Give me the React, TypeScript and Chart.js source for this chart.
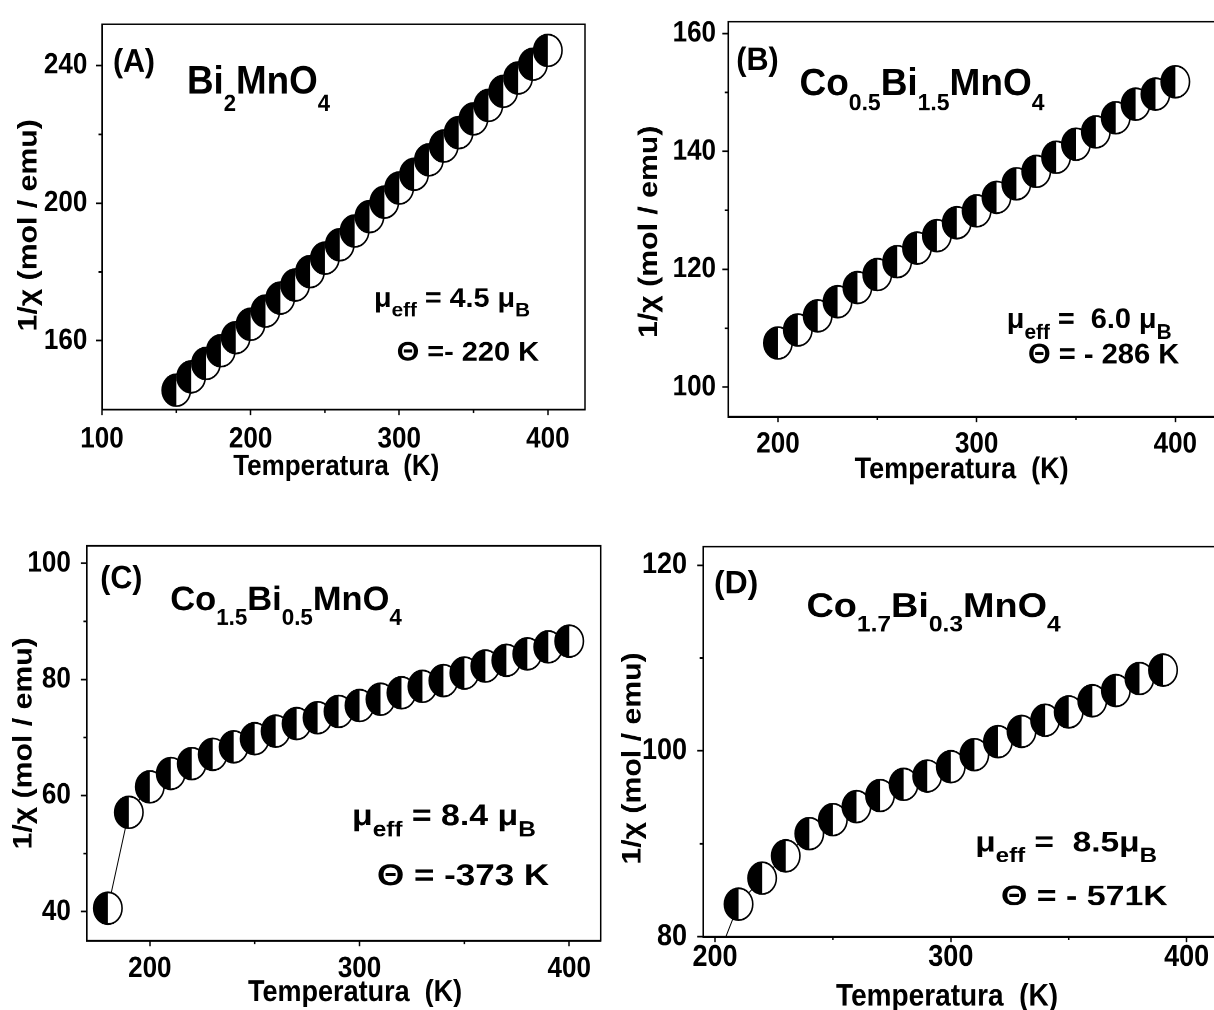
import { useEffect, useRef } from "react";
import { Chart, registerables } from "chart.js";

Chart.register(...registerables);

// ---------------- data ----------------
const tempA = [150, 160, 170, 180, 190, 200, 210, 220, 230, 240, 250, 260, 270, 280, 290, 300, 310, 320, 330, 340, 350, 360, 370, 380, 390, 400];
const chiA = [145.6, 149.5, 153.4, 157.1, 160.9, 164.8, 168.6, 172.4, 176.2, 180.1, 184.0, 187.9, 191.9, 196.1, 200.3, 204.4, 208.4, 212.6, 216.6, 220.5, 224.5, 228.4, 232.5, 236.4, 240.4, 244.4];

const tempB = [200, 210, 220, 230, 240, 250, 260, 270, 280, 290, 300, 310, 320, 330, 340, 350, 360, 370, 380, 390, 400];
const chiB = [107.5, 109.7, 112.1, 114.5, 116.9, 119.1, 121.3, 123.6, 125.7, 127.9, 129.9, 132.2, 134.5, 136.6, 139.0, 141.2, 143.3, 145.7, 148.0, 149.7, 151.8];

const tempC = [180, 190, 200, 210, 220, 230, 240, 250, 260, 270, 280, 290, 300, 310, 320, 330, 340, 350, 360, 370, 380, 390, 400];
const chiC = [40.6, 57.1, 61.5, 63.8, 65.5, 67.1, 68.4, 69.8, 71.1, 72.4, 73.4, 74.5, 75.5, 76.6, 77.7, 78.8, 79.8, 81.1, 82.3, 83.3, 84.4, 85.6, 86.6];

const tempD = [200, 210, 220, 230, 240, 250, 260, 270, 280, 290, 300, 310, 320, 330, 340, 350, 360, 370, 380, 390];
const chiD = [77.0, 83.5, 86.3, 88.7, 91.1, 92.6, 94.0, 95.2, 96.4, 97.3, 98.3, 99.6, 101.0, 102.1, 103.3, 104.2, 105.4, 106.5, 107.8, 108.7];

// axis ranges / tick steps
const xRangeA = [100, 425]; const yRangeA = [140, 252]; const xStepA = 100; const yStepA = 40;
const xRangeB = [175, 425]; const yRangeB = [95, 162]; const xStepB = 100; const yStepB = 20;
const xRangeC = [170, 415]; const yRangeC = [35, 103]; const xStepC = 100; const yStepC = 20;
const xRangeD = [195, 415]; const yRangeD = [80, 122]; const xStepD = 100; const yStepD = 20;

const xTitle = "Temperatura  (K)";
const yTitle = "1/\u03C7 (mol / emu)";

// ---------------- layout ----------------
const S = 1.12; // vertical stretch of the original figure
const HU = 450; // unstretched canvas height
const FONT = "'Liberation Sans', Arial, Helvetica, sans-serif";

type Run = { t: string; sub?: boolean };
type Note = { runs: Run[]; x0: number; x1: number; base: number; size: number; subScale?: number; subDrop?: number };
type Panel = {
  id: string;
  temps: number[]; chi: number[];
  xr: number[]; yr: number[]; xs: number; ys: number;
  left: number; top: number; width: number;
  fL: number; fR: number; fT: number; fB: number;
  xLabC: number; xTitC: number; yTitC: number; yLabGap: number;
  tickFont: number; xTitFont: number; yTitFont: number;
  xTitText: string; yTitText: string;
  notes: Note[];
};

const mu = "\u03BC";
const TH = "\u0398";

const panels: Panel[] = [
  {
    id: "A", temps: tempA, chi: chiA, xr: xRangeA, yr: yRangeA, xs: xStepA, ys: yStepA,
    left: 0, top: 0, width: 600,
    fL: 102, fR: 585, fT: 17.5, fB: 409.5,
    xLabC: 439.2, xTitC: 467, yTitC: 29, yLabGap: 14.7,
    tickFont: 26, xTitFont: 26, yTitFont: 27,
    xTitText: xTitle + "  ", yTitText: yTitle + "  ",
    notes: [
      { runs: [{ t: "(A)" }], x0: 113, x1: 155, base: 71.7, size: 29 },
      { runs: [{ t: "Bi" }, { t: "2", sub: true }, { t: "MnO" }, { t: "4", sub: true }], x0: 187, x1: 330, base: 93.3, size: 35, subScale: 0.6, subDrop: 0.45 },
      { runs: [{ t: mu }, { t: "eff", sub: true }, { t: " = 4.5 " + mu }, { t: "B", sub: true }], x0: 374, x1: 530, base: 306.7, size: 24, subScale: 0.72, subDrop: 0.37 },
      { runs: [{ t: TH + " =- 220 K" }], x0: 396.7, x1: 539, base: 360.7, size: 24 },
    ],
  },
  {
    id: "B", temps: tempB, chi: chiB, xr: xRangeB, yr: yRangeB, xs: xStepB, ys: yStepB,
    left: 610, top: 0, width: 620,
    fL: 728.3, fR: 1225, fT: 19.3, fB: 416.7,
    xLabC: 444.2, xTitC: 470, yTitC: 649.5, yLabGap: 12.3,
    tickFont: 26, xTitFont: 27, yTitFont: 27,
    xTitText: xTitle + "    ", yTitText: yTitle + "   ",
    notes: [
      { runs: [{ t: "(B)" }], x0: 736.3, x1: 778.7, base: 70, size: 29 },
      { runs: [{ t: "Co" }, { t: "0.5", sub: true }, { t: "Bi" }, { t: "1.5", sub: true }, { t: "MnO" }, { t: "4", sub: true }], x0: 799.5, x1: 1044.5, base: 95, size: 34, subScale: 0.62, subDrop: 0.4 },
      { runs: [{ t: mu }, { t: "eff", sub: true }, { t: " =  6.0 " + mu }, { t: "B", sub: true }], x0: 1006.8, x1: 1171.6, base: 328.3, size: 25, subScale: 0.72, subDrop: 0.37 },
      { runs: [{ t: TH + " = - 286 K" }], x0: 1028, x1: 1179.3, base: 363.3, size: 25 },
    ],
  },
  {
    id: "C", temps: tempC, chi: chiC, xr: xRangeC, yr: yRangeC, xs: xStepC, ys: yStepC,
    left: 0, top: 520, width: 610,
    fL: 86.9, fR: 600.7, fT: 544.3, fB: 940.7,
    xLabC: 969.2, xTitC: 992.5, yTitC: 24, yLabGap: 16.1,
    tickFont: 26, xTitFont: 27, yTitFont: 27,
    xTitText: "   " + xTitle, yTitText: yTitle,
    notes: [
      { runs: [{ t: "(C)" }], x0: 100.3, x1: 142.4, base: 588.3, size: 29 },
      { runs: [{ t: "Co" }, { t: "1.5", sub: true }, { t: "Bi" }, { t: "0.5", sub: true }, { t: "MnO" }, { t: "4", sub: true }], x0: 170.3, x1: 401.8, base: 610, size: 31, subScale: 0.65, subDrop: 0.43 },
      { runs: [{ t: mu }, { t: "eff", sub: true }, { t: " = 8.4 " + mu }, { t: "B", sub: true }], x0: 352, x1: 535.8, base: 825, size: 27, subScale: 0.72, subDrop: 0.37 },
      { runs: [{ t: TH + " = -373 K" }], x0: 377, x1: 549.2, base: 885, size: 27 },
    ],
  },
  {
    id: "D", temps: tempD, chi: chiD, xr: xRangeD, yr: yRangeD, xs: xStepD, ys: yStepD,
    left: 610, top: 520, width: 620,
    fL: 703.2, fR: 1222, fT: 540.7, fB: 936.7,
    xLabC: 957.5, xTitC: 996.7, yTitC: 633, yLabGap: 16.2,
    tickFont: 27, xTitFont: 28, yTitFont: 27,
    xTitText: xTitle + "    ", yTitText: yTitle + "    ",
    notes: [
      { runs: [{ t: "(D)" }], x0: 714, x1: 758.3, base: 593.3, size: 29 },
      { runs: [{ t: "Co" }, { t: "1.7", sub: true }, { t: "Bi" }, { t: "0.3", sub: true }, { t: "MnO" }, { t: "4", sub: true }], x0: 806.5, x1: 1060.7, base: 616.7, size: 31, subScale: 0.65, subDrop: 0.43 },
      { runs: [{ t: mu }, { t: "eff", sub: true }, { t: " =  8.5" + mu }, { t: "B", sub: true }], x0: 975.2, x1: 1157, base: 851.7, size: 25, subScale: 0.72, subDrop: 0.37 },
      { runs: [{ t: TH + " = - 571K" }], x0: 1001, x1: 1167.8, base: 905, size: 25 },
    ],
  },
];

const TLX = 5;
const TLY = 6;

function drawNote(ctx: CanvasRenderingContext2D, n: Note, p: Panel) {
  const x0 = n.x0 - p.left;
  const x1 = n.x1 - p.left;
  const base = (n.base - p.top) / S;
  const subScale = n.subScale ?? 0.65;
  const subDrop = n.subDrop ?? 0.4;
  const mainF = `bold ${n.size}px ${FONT}`;
  const subF = `bold ${n.size * subScale}px ${FONT}`;
  let w = 0;
  const widths: number[] = [];
  for (const r of n.runs) {
    ctx.font = r.sub ? subF : mainF;
    const m = ctx.measureText(r.t).width;
    widths.push(m);
    w += m;
  }
  const sx = (x1 - x0) / w;
  ctx.save();
  ctx.translate(x0, base);
  ctx.scale(sx, 1);
  ctx.fillStyle = "#000";
  ctx.textAlign = "left";
  ctx.textBaseline = "alphabetic";
  let cx = 0;
  n.runs.forEach((r, i) => {
    ctx.font = r.sub ? subF : mainF;
    ctx.fillText(r.t, cx, r.sub ? n.size * subDrop : 0);
    cx += widths[i];
  });
  ctx.restore();
}

function makePlugin(p: Panel) {
  return {
    id: "decor" + p.id,
    afterDatasetsDraw(chart: any) {
      const ctx: CanvasRenderingContext2D = chart.ctx;
      const ca = chart.chartArea;
      const meta = chart.getDatasetMeta(0);
      const r = 14.2;
      ctx.save();
      ctx.beginPath();
      ctx.rect(ca.left, ca.top, ca.right - ca.left, ca.bottom - ca.top);
      ctx.clip();
      for (const el of meta.data) {
        const x = el.x;
        const y = el.y;
        ctx.beginPath();
        ctx.arc(x, y, r, 0, Math.PI * 2);
        ctx.fillStyle = "#fff";
        ctx.fill();
        ctx.beginPath();
        ctx.arc(x, y, r, Math.PI / 2, (3 * Math.PI) / 2);
        ctx.closePath();
        ctx.fillStyle = "#000";
        ctx.fill();
        ctx.beginPath();
        ctx.arc(x, y, r, 0, Math.PI * 2);
        ctx.lineWidth = 1.6;
        ctx.strokeStyle = "#000";
        ctx.stroke();
      }
      ctx.restore();
    },
    afterDraw(chart: any) {
      const ctx: CanvasRenderingContext2D = chart.ctx;
      const ca = chart.chartArea;
      ctx.save();
      ctx.strokeStyle = "#000";
      ctx.lineWidth = 1.5;
      ctx.strokeRect(ca.left, ca.top, ca.right - ca.left, ca.bottom - ca.top);
      // minor ticks
      const xs = chart.scales.x;
      const ys = chart.scales.y;
      const minors = (sc: any) => {
        const t = sc.ticks.map((k: any) => k.value);
        const out: number[] = [];
        if (t.length < 2) return out;
        const st = t[1] - t[0];
        const cand = [t[0] - st / 2, ...t.map((v: number) => v + st / 2)];
        for (const v of cand) if (v > sc.min && v < sc.max) out.push(v);
        return out;
      };
      ctx.lineWidth = 1.5;
      ctx.beginPath();
      for (const v of minors(xs)) {
        const px = xs.getPixelForValue(v);
        ctx.moveTo(px, ca.bottom);
        ctx.lineTo(px, ca.bottom + 3);
      }
      for (const v of minors(ys)) {
        const py = ys.getPixelForValue(v);
        ctx.moveTo(ca.left, py);
        ctx.lineTo(ca.left - 3.5, py);
      }
      ctx.stroke();
      ctx.restore();
      for (const n of p.notes) drawNote(ctx, n, p);
    },
  };
}

function PanelChart({ p }: { p: Panel }) {
  const ref = useRef<HTMLCanvasElement>(null);
  useEffect(() => {
    const canvas = ref.current;
    if (!canvas) return;
    const fTopU = (p.fT - p.top) / S;
    const fBotU = (p.fB - p.top) / S;
    const xLabU = (p.xLabC - p.top) / S;
    const xTitU = (p.xTitC - p.top) / S;
    const xTickPad = xLabU - fBotU - TLX - p.tickFont / 2;
    const xTitPad = HU - xTitU - p.xTitFont / 2;
    const yTitPad = p.yTitC - p.left - p.yTitFont / 2;
    const yTickPad = p.yLabGap - TLY;
    const tickFontObj = { family: FONT, weight: "bold" as const, size: p.tickFont, lineHeight: 1 };
    const chart = new Chart(canvas, {
      type: "scatter",
      data: {
        datasets: [
          {
            data: p.temps.map((t, i) => ({ x: t, y: p.chi[i] })),
            showLine: true,
            borderColor: "#000",
            borderWidth: 1,
            pointRadius: 0,
            pointHoverRadius: 0,
            tension: 0,
          },
        ],
      },
      options: {
        animation: false,
        responsive: false,
        devicePixelRatio: 2,
        events: [],
        layout: {
          padding: { left: 0, top: fTopU, right: p.width - (p.fR - p.left), bottom: 0 },
        },
        plugins: { legend: { display: false }, tooltip: { enabled: false }, title: { display: false } },
        scales: {
          x: {
            type: "linear",
            min: p.xr[0],
            max: p.xr[1],
            ticks: {
              stepSize: p.xs,
              includeBounds: false,
              color: "#000",
              font: tickFontObj,
              padding: xTickPad,
              maxRotation: 0,
              autoSkip: false,
            },
            grid: { drawOnChartArea: false, drawTicks: true, tickLength: TLX, tickColor: "#000", tickWidth: 1.5, color: "#000" },
            border: { display: true, color: "#000", width: 1.5 },
            title: {
              display: true,
              text: p.xTitText,
              color: "#000",
              font: { family: FONT, weight: "bold", size: p.xTitFont, lineHeight: 1 },
              padding: { top: 0, bottom: xTitPad },
            },
            afterFit: (s: any) => {
              s.height = HU - fBotU;
            },
          },
          y: {
            type: "linear",
            min: p.yr[0],
            max: p.yr[1],
            ticks: {
              stepSize: p.ys,
              includeBounds: false,
              color: "#000",
              font: tickFontObj,
              padding: yTickPad,
              autoSkip: false,
            },
            grid: { drawOnChartArea: false, drawTicks: true, tickLength: TLY, tickColor: "#000", tickWidth: 1.5, color: "#000" },
            border: { display: true, color: "#000", width: 1.5 },
            title: {
              display: true,
              text: p.yTitText,
              color: "#000",
              font: { family: FONT, weight: "bold", size: p.yTitFont, lineHeight: 1 },
              padding: { top: yTitPad, bottom: 0 },
            },
            afterFit: (s: any) => {
              s.width = p.fL - p.left;
            },
          },
        },
      } as any,
      plugins: [makePlugin(p)],
    });
    return () => chart.destroy();
  }, [p]);
  return (
    <div
      style={{
        position: "absolute",
        left: p.left,
        top: p.top,
        width: p.width,
        height: HU,
        transform: `scaleY(${S})`,
        transformOrigin: "0 0",
      }}
    >
      <canvas ref={ref} width={p.width} height={HU} style={{ display: "block", width: p.width, height: HU }} />
    </div>
  );
}

export default function App() {
  return (
    <div
      style={{
        position: "absolute",
        left: 0,
        top: 0,
        width: 1214,
        height: 1010,
        overflow: "hidden",
        background: "#fff",
      }}
    >
      {panels.map((p) => (
        <PanelChart key={p.id} p={p} />
      ))}
    </div>
  );
}
